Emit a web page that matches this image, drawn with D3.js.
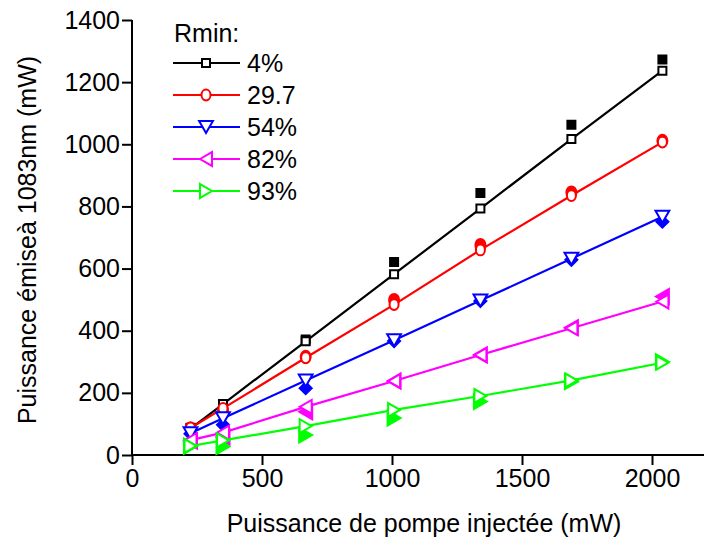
<!DOCTYPE html>
<html><head><meta charset="utf-8">
<script src="https://cdn.jsdelivr.net/npm/d3@7"></script>
<style>body{margin:0;background:#fff}svg{display:block}text{font-family:"Liberation Sans",Arial,sans-serif;fill:#000}</style>
</head><body><svg id="c" width="707" height="541"></svg>
<script>
const xPump = [225, 350, 668, 1008, 1340, 1690, 2040];
const seriesNames = ["4%", "29.7", "54%", "82%", "93%"];
const seriesColors = ["#000000", "#ff0000", "#0000ff", "#ff00ff", "#00ff00"];
const seriesShapes = ["square", "circle", "triDown", "triLeft", "triRight"];
const filledShapes = ["square", "circle", "diamond", "triLeft", "triRight"];
// fitted (open markers, joined by line)
const fit4 = [85, 164, 366, 582, 793, 1017, 1237];
const fit297 = [87, 150, 313, 484, 660, 835, 1007];
const fit54 = [70, 118, 240, 369, 497, 632, 767];
const fit82 = [48, 72, 155, 238, 322, 408, 494];
const fit93 = [29, 47, 93, 145, 190, 240, 297];
// measured (filled markers)
const meas4 = [88, 152, 372, 621, 843, 1063, 1273];
const meas297 = [85, 145, 316, 499, 676, 845, 1011];
const meas54 = [68, 97, 215, 367, 496, 628, 751];
const meas82 = [45, 58, 139, 238, 322, 410, 510];
const meas93 = [28, 27, 64, 119, 172, 236, 300];
const xTicks = [0, 500, 1000, 1500, 2000];
const yTicks = [0, 200, 400, 600, 800, 1000, 1200, 1400];

const fits = [fit4, fit297, fit54, fit82, fit93];
const meas = [meas4, meas297, meas54, meas82, meas93];

const FS = 25;
const svg = d3.select("#c");
const x = d3.scaleLinear().domain([0, 2200]).range([132, 704]);
const y = d3.scaleLinear().domain([0, 1400]).range([455, 20]);

function shapePath(shape, s) {
  const h = s / 2;
  switch (shape) {
    case "square": return `M${-h},${-h}H${h}V${h}H${-h}Z`;
    case "diamond": return `M0,${-h*1.2}L${h*1.2},0L0,${h*1.2}L${-h*1.2},0Z`;
    case "triDown": return `M${-h*1.15},${-h}L${h*1.15},${-h}L0,${h}Z`;
    case "triLeft": return `M${-h},0L${h},${-h*1.15}L${h},${h*1.15}Z`;
    case "triRight": return `M${h},0L${-h},${-h*1.15}L${-h},${h*1.15}Z`;
  }
}
function drawMarker(g, shape, cx, cy, color, filled, s) {
  if (shape === "circle") {
    g.append("ellipse").attr("cx", cx).attr("cy", cy).attr("rx", s/2).attr("ry", s/2*1.2)
      .attr("fill", filled ? color : "#fff").attr("stroke", color).attr("stroke-width", 2);
  } else {
    g.append("path").attr("d", shapePath(shape, s)).attr("transform", `translate(${cx},${cy})`)
      .attr("fill", filled ? color : "#fff").attr("stroke", color).attr("stroke-width", 2);
  }
}

// axes
const xAxis = svg.append("g").attr("transform", "translate(0,455)")
  .call(d3.axisBottom(x).tickValues(xTicks).tickSize(10).tickPadding(4).tickFormat(d3.format("d")));
const yAxis = svg.append("g").attr("transform", "translate(132,0)")
  .call(d3.axisLeft(y).tickValues(yTicks).tickSize(10).tickPadding(2).tickFormat(d3.format("d")));
[xAxis, yAxis].forEach(a => {
  a.select(".domain").attr("stroke", "#000").attr("stroke-width", 2);
  a.selectAll(".tick line").attr("stroke", "#000").attr("stroke-width", 2);
  a.selectAll(".tick text").attr("font-size", FS).style("font-family", "Liberation Sans, Arial, sans-serif");
});
xAxis.select(".domain").attr("d", `M132,0H704`);
yAxis.select(".domain").attr("d", `M0,${y(1400)}V455`);

// series
const plot = svg.append("g");
fits.forEach((f, i) => {
  const col = seriesColors[i];
  const line = d3.line().x((d, j) => x(xPump[j])).y(d => y(d));
  meas[i].forEach((v, j) => drawMarker(plot, filledShapes[i], x(xPump[j]), y(v), col, true, i === 0 ? 8 : (i >= 3 ? 13 : 10)));
  plot.append("path").datum(f).attr("d", line).attr("fill", "none").attr("stroke", col).attr("stroke-width", 2.2);
  f.forEach((v, j) => drawMarker(plot, seriesShapes[i], x(xPump[j]), y(v), col, false, i === 0 ? 8 : (i >= 2 ? 12 : 9)));
});

// legend
const lg = svg.append("g");
lg.append("text").attr("x", 174).attr("y", 42).attr("font-size", FS).text("Rmin:");
seriesNames.forEach((n, i) => {
  const yy = 63 + i * 32;
  lg.append("line").attr("x1", 173).attr("x2", 240).attr("y1", yy).attr("y2", yy)
    .attr("stroke", seriesColors[i]).attr("stroke-width", 2.2);
  drawMarker(lg, seriesShapes[i], 206, yy, seriesColors[i], false, i === 0 ? 8 : (i >= 2 ? 12 : 9));
  lg.append("text").attr("x", 247).attr("y", yy + 9).attr("font-size", FS).text(n);
});

// titles
svg.append("text").attr("x", 424).attr("y", 532).attr("text-anchor", "middle").attr("font-size", FS)
  .text("Puissance de pompe injectée (mW)");
svg.append("text").attr("transform", "translate(36,240) rotate(-90)").attr("text-anchor", "middle").attr("font-size", FS)
  .text("Puissance émiseà 1083nm (mW)");
</script></body></html>
